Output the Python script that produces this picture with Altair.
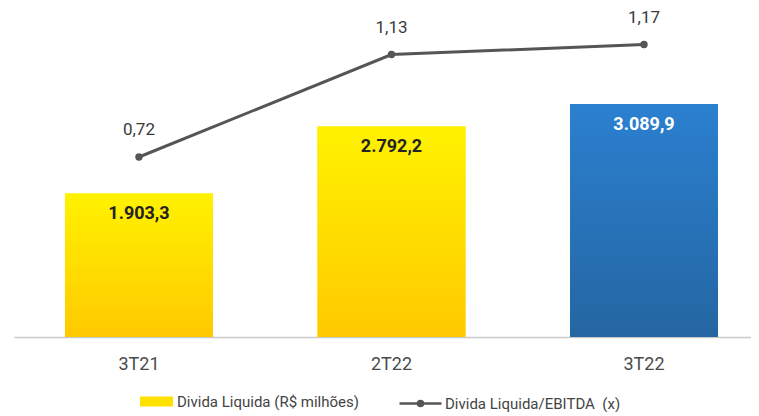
import altair as alt
import pandas as pd

trimestres = ["3T21", "2T22", "3T22"]
divida_liquida = [1903.3, 2792.2, 3089.9]
divida_ebitda = [0.72, 1.13, 1.17]
grupo = ["amarelo", "amarelo", "azul"]
serie_barra = "Divida Liquida (R$ milhões)"
serie_linha = "Divida Liquida/EBITDA\u00a0 (x)"


def fmt_br(v, dec):
    s = f"{v:,.{dec}f}"
    return s.replace(",", "X").replace(".", ",").replace("X", ".")


df = pd.DataFrame({
    "trimestre": trimestres,
    "divida": divida_liquida,
    "ratio": divida_ebitda,
    "grupo": grupo,
})
df["rot_divida"] = [fmt_br(v, 1) for v in divida_liquida]
df["rot_ratio"] = [fmt_br(v, 2) for v in divida_ebitda]
df["serie_barra"] = serie_barra
df["serie_linha"] = serie_linha

FONT = "Roboto, Liberation Sans, sans-serif"

xenc = alt.X(
    "trimestre:N",
    sort=trimestres,
    title=None,
    scale=alt.Scale(paddingInner=0.414, paddingOuter=0.1663, align=0.607),
    axis=alt.Axis(
        labelAngle=0, ticks=False, domainColor="#c9c9c9", domainWidth=1.5,
        labelFont=FONT, labelFontSize=18, labelColor="#4a4a4a", labelPadding=18,
    ),
)
ybar = alt.Y("divida:Q", scale=alt.Scale(domain=[0, 4363]), axis=None)
yline = alt.Y("ratio:Q", scale=alt.Scale(domain=[0, 1.316]), axis=None)

base = alt.Chart(df)

grad_yellow = alt.Gradient(
    gradient="linear", x1=0, x2=0, y1=0, y2=1,
    stops=[alt.GradientStop(color="#FFF200", offset=0),
           alt.GradientStop(color="#FFC900", offset=1)],
)
grad_blue = alt.Gradient(
    gradient="linear", x1=0, x2=0, y1=0, y2=1,
    stops=[alt.GradientStop(color="#2B80D0", offset=0),
           alt.GradientStop(color="#2466A2", offset=1)],
)

bar_leg = base.mark_bar().encode(
    x=xenc, y=ybar,
    fill=alt.Fill(
        "serie_barra:N", scale=alt.Scale(range=["#FFE100"]),
        legend=alt.Legend(
            title=None, orient="none", legendX=126, legendY=377,
            symbolType="M-1,-0.3H1V0.3H-1Z", symbolSize=1089, symbolStrokeWidth=0,
            labelFont=FONT, labelFontSize=15, labelColor="#444444", labelOffset=4,
            labelLimit=400,
        ),
    ),
)
bar_y = base.transform_filter(alt.datum.grupo == "amarelo").mark_bar(color=grad_yellow).encode(x=xenc, y=ybar)
bar_b = base.transform_filter(alt.datum.grupo == "azul").mark_bar(color=grad_blue).encode(x=xenc, y=ybar)

bar_txt = base.mark_text(
    font=FONT, fontSize=18, fontWeight="bold", baseline="middle", dy=21
).encode(
    x=xenc, y=ybar, text="rot_divida:N",
    color=alt.condition(alt.datum.grupo == "azul", alt.value("#ffffff"), alt.value("#222222")),
)

line = base.mark_line(strokeWidth=3).encode(
    x=xenc, y=yline,
    stroke=alt.Stroke(
        "serie_linha:N", scale=alt.Scale(range=["#555555"]),
        legend=alt.Legend(
            title=None, orient="none", legendX=384, legendY=373,
            symbolType="M-1,0H1M-0.12,0A0.12,0.12 0 1,1 0.12,0A0.12,0.12 0 1,1 -0.12,0",
            symbolSize=1764, symbolStrokeWidth=2.5, symbolFillColor="#555555",
            labelFont=FONT, labelFontSize=15, labelColor="#444444", labelOffset=2,
            labelLimit=400,
        ),
    ),
)
pts = base.mark_circle(size=55, color="#555555", opacity=1).encode(x=xenc, y=yline)
line_txt = base.mark_text(
    font=FONT, fontSize=17, baseline="middle", dy=-27, color="#3a3a3a"
).encode(x=xenc, y=yline, text="rot_ratio:N")

chart = alt.layer(bar_leg, bar_y, bar_b, bar_txt, line, pts, line_txt).resolve_scale(
    y="independent"
).properties(
    width=737, height=329,
    padding={"left": 6, "top": 0, "right": 0, "bottom": 0},
    background="white",
).configure_view(stroke=None)

chart.save("out.html", embed_options={"renderer": "svg", "actions": False})
